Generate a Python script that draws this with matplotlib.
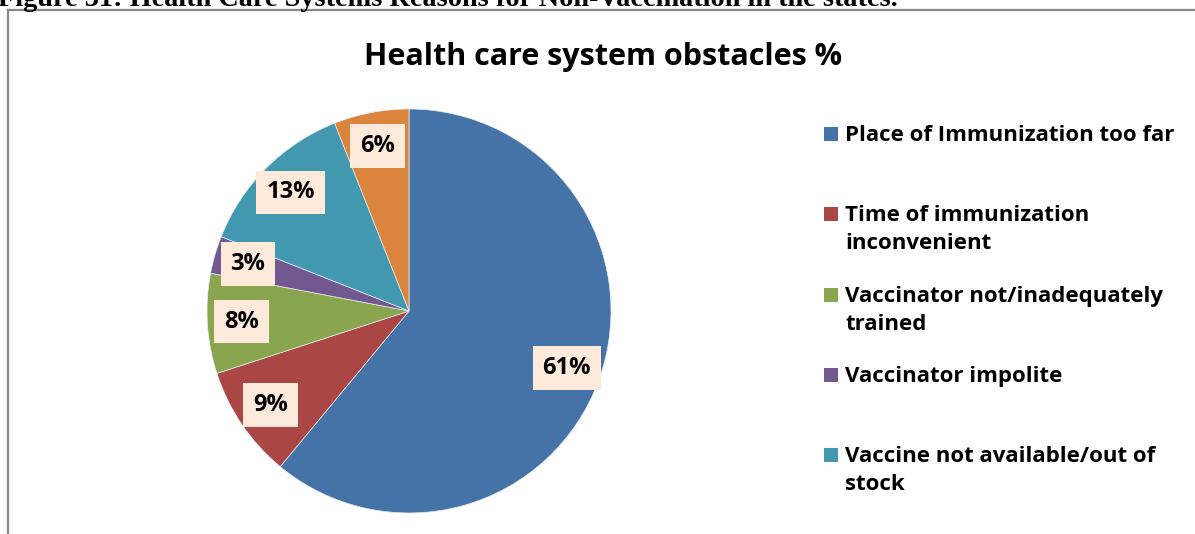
import matplotlib
matplotlib.use("Agg")
import matplotlib.pyplot as plt
from matplotlib.patches import Rectangle
from matplotlib.lines import Line2D
import numpy as np

# Dados do gráfico
categorias = [
    "Place of Immunization too far",
    "Time of immunization\ninconvenient",
    "Vaccinator not/inadequately\ntrained",
    "Vaccinator impolite",
    "Vaccine not available/out of\nstock",
    "Out of stock",
]
valores = [61, 9, 8, 3, 13, 6]
cores = ["#4572A7", "#AA4643", "#89A54E", "#71588F", "#4198AF", "#DB843D"]

titulo = "Health care system obstacles %"
legenda_titulo = "Figure 31: Health Care Systems Reasons for Non-Vaccination in the states."

FONTE = "Open Sans"
W, H = 1195, 534
fig = plt.figure(figsize=(W / 100, H / 100), dpi=100)

# Moldura do gráfico (só esquerda e topo aparecem)
fig.add_artist(Line2D([8 / W, 8 / W], [0, 1 - 10 / H], color="#888888", lw=1.6))
fig.add_artist(Line2D([8 / W, 1], [1 - 10 / H, 1 - 10 / H], color="#888888", lw=1.6))

# Legenda da figura, cortada no topo
fig.text(-2 / W, 1 - 6 / H, legenda_titulo, family="Liberation Serif",
         fontweight="bold", fontsize=20.3, ha="left", va="baseline")

# Título do gráfico
fig.text(603 / W, 1 - 57 / H, titulo, family=FONTE, fontweight="bold",
         fontsize=22, ha="center", va="center")

# Pizza: centro (409, 311), raio 202 px
cx, cy, r = 409, 311, 202
ax = fig.add_axes([(cx - r) / W, (H - cy - r) / H, 2 * r / W, 2 * r / H])
wedges, textos, pcts = ax.pie(
    valores, colors=cores, startangle=90, counterclock=False,
    autopct=lambda p: "{:.0f}%".format(p), pctdistance=0.83,
    wedgeprops=dict(edgecolor="#e8eef5", linewidth=0.5),
    textprops=dict(family=FONTE, fontweight="bold", fontsize=17, color="black"),
)
for t in pcts:
    t.set_bbox(dict(boxstyle="square,pad=0.42", facecolor="#FDEADA", edgecolor="none"))
ax.set_xlim(-1, 1)
ax.set_ylim(-1, 1)
ax.set_aspect("equal")
ax.axis("off")

# Legenda desenhada à mão (quadrado alinhado à primeira linha)
y_itens = [134, 214, 295, 375, 455]
for y, nome, cor in zip(y_itens, categorias[:5], cores[:5]):
    fig.add_artist(Rectangle((824 / W, 1 - (y + 7) / H), 14 / W, 14 / H,
                             facecolor=cor, edgecolor="none"))
    fig.text(845 / W, 1 - (y - 9) / H, nome, family=FONTE, fontweight="bold",
             fontsize=16, ha="left", va="top", linespacing=1.44)

fig.savefig("out.png", dpi=100)
